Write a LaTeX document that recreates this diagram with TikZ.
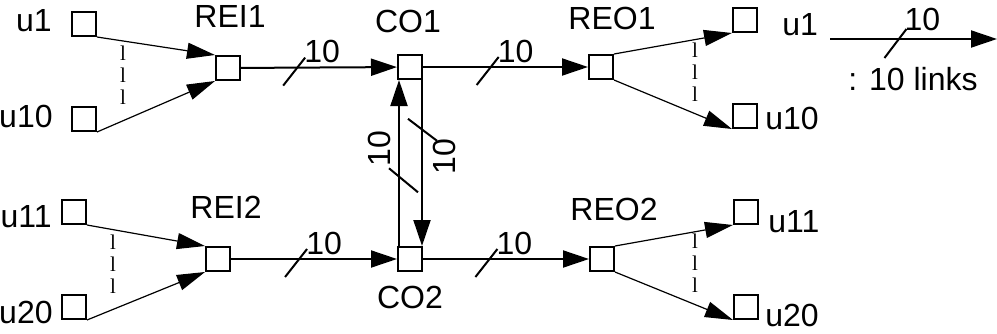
\documentclass[tikz,border=0pt]{standalone}
\usepackage{fontspec}
\setmainfont{Liberation Sans}
\newfontfamily\dotfont{Liberation Serif}
\usetikzlibrary{positioning,arrows.meta,calc}
\tikzset{
  port/.style={
    draw, line width=1pt, fill=white,
    minimum size=12pt, inner sep=0pt
  },
  lbl/.style={inner sep=0pt, font=\fontsize{16}{19}\selectfont},
  vdots/.style={inner sep=0pt, align=center, font=\dotfont\fontsize{10.5}{11}\selectfont},
  arrow/.style={-{Triangle[length=13pt,width=8.5pt]}, line width=1pt},
  fan/.style={-{Triangle[length=14pt,width=8pt]}, line width=0.6pt},
  bus/.style={line width=1pt}
}

\begin{document}
\begin{tikzpicture}[x=0.5pt,y=-0.5pt]
  \useasboundingbox (0,0) rectangle (997,333);

  % ports
  \node[port] (in1a) at (84,24) {};
  \node[port] (in1b) at (84,119) {};
  \node[port] (REI1) at (228,68) {};
  \node[port] (CO1) at (410,67) {};
  \node[port] (REO1) at (601,67) {};
  \node[port] (out1a) at (745,20) {};
  \node[port] (out1b) at (745,116) {};

  \node[port] (in2a) at (74,212) {};
  \node[port] (in2b) at (74,307) {};
  \node[port] (REI2) at (218,259) {};
  \node[port] (CO2) at (410,259) {};
  \node[port] (REO2) at (602,259) {};
  \node[port] (out2a) at (746,212) {};
  \node[port] (out2b) at (746,307) {};

  % labels
  \node[lbl, left=9.5pt of in1a, yshift=1.5pt] (lin1a) {u1};
  \node[lbl, left=9pt of in1b, yshift=1.5pt] (lin1b) {u10};
  \node[lbl, left=4.5pt of in2a, yshift=-2.5pt] (lin2a) {u11};
  \node[lbl, left=4pt of in2b, yshift=-2.5pt] (lin2b) {u20};
  \node[lbl, above=13.5pt of REI1, xshift=1pt] (lREI1) {REI1};
  \node[lbl, above=13.5pt of REI2, xshift=4pt] (lREI2) {REI2};
  \node[lbl, above=10.5pt of CO1, xshift=-1pt] (lCO1) {CO1};
  \node[lbl, below=7pt of CO2] (lCO2) {CO2};
  \node[lbl, above=12pt of REO1, xshift=5.5pt] (lREO1) {REO1};
  \node[lbl, above=12.5pt of REO2, xshift=6pt] (lREO2) {REO2};
  \node[lbl, right=12pt of out1a, yshift=-2.5pt] (lout1a) {u1};
  \node[lbl, right=3.5pt of out1b, yshift=-1pt] (lout1b) {u10};
  \node[lbl, right=4.5pt of out2a, yshift=-5pt] (lout2a) {u11};
  \node[lbl, right=3pt of out2b, yshift=-4pt] (lout2b) {u20};

  \node[vdots] (dots1) at (123,75) {l\\l\\l};
  \node[vdots] (dots2) at (113,264) {l\\l\\l};
  \node[vdots] (dots3) at (695,72) {l\\l\\l};
  \node[vdots] (dots4) at (695,263) {l\\l\\l};

  % fan in / fan out
  \draw[fan] (in1a.south east) -- (REI1.north west);
  \draw[fan] (in1b.south east) -- (REI1.south west);
  \draw[fan] (in2a.south east) -- (REI2.north west);
  \draw[fan] (in2b.south east) -- (REI2.south west);
  \draw[fan] (REO1.north east) -- (out1a.south west);
  \draw[fan] (REO1.south east) -- (out1b.south west);
  \draw[fan] (REO2.north east) -- (out2a.south west);
  \draw[fan] (REO2.south east) -- (out2b.south west);

  % 10-link buses
  \draw[arrow] (REI1) -- coordinate[pos=0.36] (t1) (CO1);
  \draw[bus] ($(t1)+(-14,18)$) -- ($(t1)+(8,-10)$);
  \node[lbl] (n1) at ($(t1)+(25,-16)$) {10};

  \draw[arrow] (CO1) -- coordinate[pos=0.41] (t2) (REO1);
  \draw[bus] ($(t2)+(-14,18)$) -- ($(t2)+(8,-10)$);
  \node[lbl] (n2) at ($(t2)+(25,-16)$) {10};

  \draw[arrow] (REI2) -- coordinate[pos=0.41] (t3) (CO2);
  \draw[bus] ($(t3)+(-14,18)$) -- ($(t3)+(8,-10)$);
  \node[lbl] (n3) at ($(t3)+(25,-16)$) {10};

  \draw[arrow] (CO2) -- coordinate[pos=0.40] (t4) (REO2);
  \draw[bus] ($(t4)+(-14,18)$) -- ($(t4)+(8,-10)$);
  \node[lbl] (n4) at ($(t4)+(25,-16)$) {10};

  \draw[arrow] ([xshift=1pt]CO2.north west) -- coordinate[pos=0.42] (tu) ([xshift=1pt]CO1.south west);
  \draw[bus] ($(tu)+(-10,-8)$) -- ($(tu)+(19,16)$);
  \node[lbl, rotate=90] (nu) at ($(tu)+(-20,-28)$) {10};

  \draw[arrow] ([xshift=-0.5pt]CO1.south east) -- coordinate[pos=0.30] (td) ([xshift=-0.5pt]CO2.north east);
  \draw[bus] ($(td)+(-14,-11)$) -- ($(td)+(15,11)$);
  \node[lbl, rotate=90] (nd) at ($(td)+(22,27)$) {10};

  % legend
  \coordinate (legS) at (830,39);
  \coordinate (legE) at (997,39);
  \draw[arrow] (legS) -- coordinate[pos=0.41] (tl) (legE);
  \draw[bus] ($(tl)+(-14,19)$) -- ($(tl)+(8,-10)$);
  \node[lbl] (nl) at ($(tl)+(24,-20)$) {10};
  \node[lbl] (legtxt) at (913,79) {: 10 links};
\end{tikzpicture}
\end{document}
